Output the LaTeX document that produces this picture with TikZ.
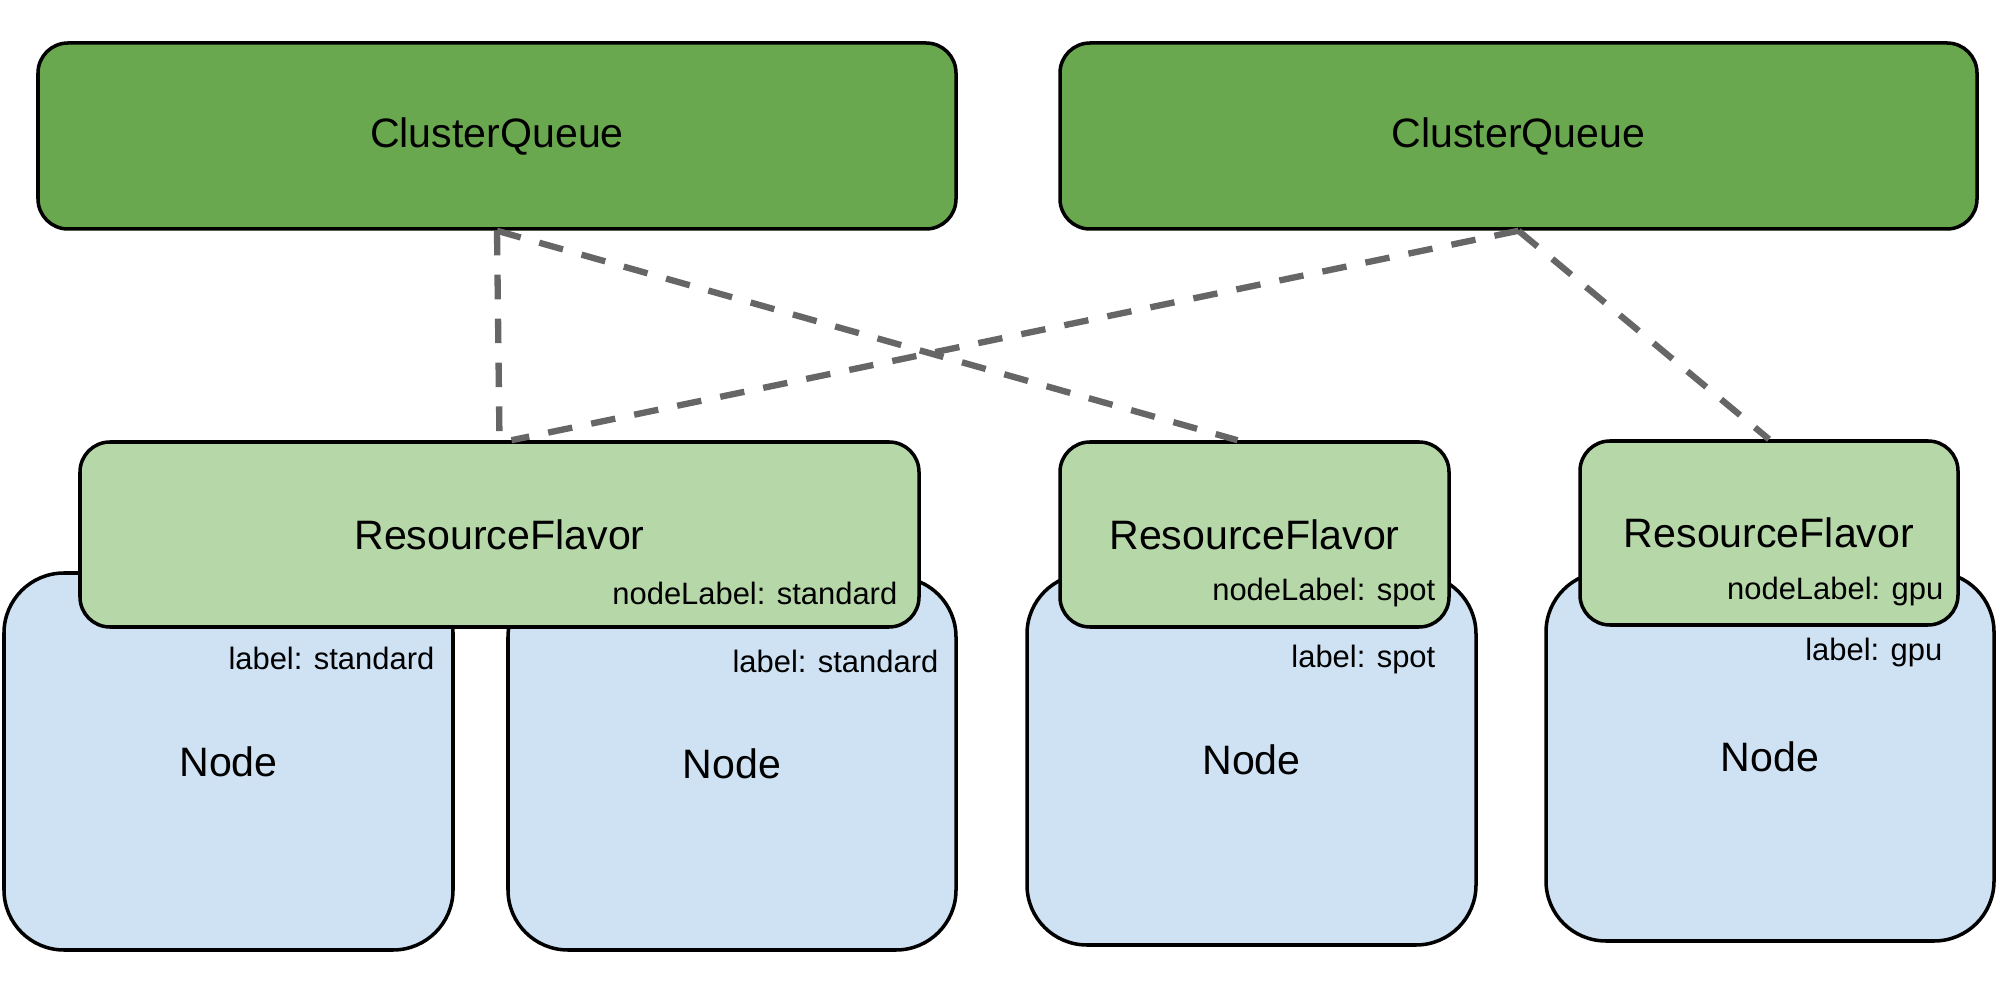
\documentclass[tikz,border=0pt]{standalone}
\usepackage{fontspec}
\setmainfont{Liberation Sans}
\usetikzlibrary{positioning, calc}

\definecolor{queuegreen}{HTML}{6AA84F}
\definecolor{flavorgreen}{HTML}{B6D7A8}
\definecolor{nodeblue}{HTML}{CFE2F3}
\definecolor{linkgray}{HTML}{666666}

\begin{document}
\begin{tikzpicture}[
    box/.style={draw=black, line width=1pt, rectangle, align=center, font=\fontsize{11.7}{14}\selectfont},
    queue/.style={box, fill=queuegreen, rounded corners=0.3cm},
    flavor/.style={box, fill=flavorgreen, rounded corners=0.3cm},
    worker/.style={box, fill=nodeblue, rounded corners=0.6cm},
    tag/.style={anchor=base east, inner sep=0pt, font=\fontsize{8.8}{10}\selectfont},
    link/.style={draw=linkgray, line width=1.8pt, dash pattern=on 7pt off 5.5pt}
]
    % Canvas
    \useasboundingbox (0,0) rectangle (20,-9.91);

    % Nodes (bottom layer)
    \node[worker, minimum width=4.49cm, minimum height=3.77cm] (n1) at (2.285,-7.615) {Node};
    \node[worker, minimum width=4.48cm, minimum height=3.73cm] (n2) at (7.32,-7.635) {Node};
    \node[worker, minimum width=4.49cm, minimum height=3.71cm] (n3) at (12.515,-7.595) {Node};
    \node[worker, minimum width=4.48cm, minimum height=3.69cm] (n4) at (17.70,-7.565) {Node};

    % Node labels
    \node[tag] (l1) at (4.35,-6.70) {label: standard};
    \node[tag] (l2) at (9.39,-6.73) {label: standard};
    \node[tag] (l3) at (14.36,-6.68) {label: spot};
    \node[tag] (l4) at (19.43,-6.61) {label: gpu};

    % Resource flavors
    \node[flavor, minimum width=8.39cm, minimum height=1.85cm] (rf1) at (4.995,-5.345) {ResourceFlavor};
    \node[flavor, minimum width=3.89cm, minimum height=1.85cm] (rf2) at (12.545,-5.345) {ResourceFlavor};
    \node[flavor, minimum width=3.78cm, minimum height=1.84cm] (rf3) at (17.69,-5.33) {ResourceFlavor};

    % Flavor node labels
    \node[tag] (fl1) at (8.98,-6.05) {nodeLabel: standard};
    \node[tag] (fl2) at (14.36,-6.01) {nodeLabel: spot};
    \node[tag] (fl3) at (19.44,-6.00) {nodeLabel: gpu};

    % Cluster queues
    \node[queue, minimum width=9.18cm, minimum height=1.86cm] (cq1) at (4.97,-1.36) {ClusterQueue};
    \node[queue, minimum width=9.17cm, minimum height=1.86cm] (cq2) at (15.185,-1.36) {ClusterQueue};

    % Links queue -> flavor
    \draw[link] (cq1.south) -- (rf1.north);
    \draw[link] (cq1.south) -- ([xshift=-0.17cm]rf2.north);
    \draw[link] (cq2.south) -- ([xshift=0.12cm]rf1.north);
    \draw[link] (cq2.south) -- (rf3.north);
\end{tikzpicture}
\end{document}
